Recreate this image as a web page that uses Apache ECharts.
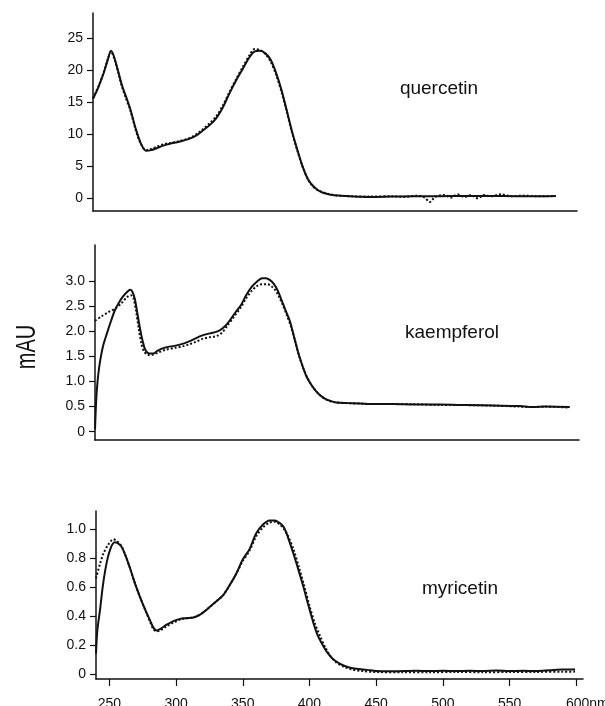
<!DOCTYPE html>
<html>
<head>
<meta charset="utf-8">
<script src="https://cdn.jsdelivr.net/npm/echarts@6/dist/echarts.min.js"></script>
<style>
  html, body { margin: 0; padding: 0; background: #fff; }
  #chart { width: 605px; height: 706px; }
</style>
</head>
<body>
<div id="chart"></div>
<script>
// wavelength (nm) / absorbance (mAU) pairs
const quercetinSolid = [
  [240,15.5],[244,17.3],[248,19.5],[251,21.5],[253.6,23.0],[256,22.0],[259,19.8],[262,17.5],[265,15.8],[268,14.0],
  [272,11.0],[276,8.6],[280,7.4],[284,7.5],[288,7.8],[293,8.2],[298,8.5],[305,8.8],[313,9.3],[318,9.8],
  [323,10.6],[328,11.4],[333,12.5],[338,14.2],[343,16.4],[348,18.4],[353,20.2],[358,22.0],[362,22.9],[366,23.0],
  [370,22.6],[374,21.6],[378,19.6],[382,17.0],[386,13.8],[390,10.5],[394,7.6],[398,5.0],[402,3.0],[406,1.9],
  [410,1.2],[414,0.8],[419,0.55],[425,0.4],[434,0.3],[449,0.2],[465,0.25],[480,0.3],[500,0.3],[520,0.35],
  [540,0.35],[560,0.3],[575,0.3],[589,0.35]
];
const quercetinDotted = [
  [240,15.6],[244,17.4],[248,19.6],[251,21.6],[253.6,22.9],[256,21.8],[259,19.6],[262,17.3],[265,15.5],[268,13.8],
  [272,10.8],[276,8.5],[280,7.5],[284,7.7],[288,8.0],[293,8.4],[298,8.6],[305,8.9],[313,9.4],[318,10.0],
  [323,10.8],[328,11.7],[333,12.8],[338,14.5],[343,16.6],[348,18.6],[353,20.5],[358,22.3],[362,23.3],[366,23.1],
  [370,22.5],[374,21.3],[378,19.3],[382,16.7],[386,13.6],[390,10.3],[394,7.5],[398,4.9],[402,3.0],[406,1.8],
  [410,1.2],[414,0.9],[419,0.6],[425,0.4],[434,0.3],[449,0.25],[465,0.3],[475,0.2],[485,0.4],[490,0.1],
  [494,-0.6],[498,0.2],[505,0.5],[510,0.1],[515,0.6],[520,0.2],[525,0.5],[530,0.0],[535,0.5],[540,0.3],
  [548,0.6],[555,0.3],[565,0.4],[575,0.3],[589,0.35]
];
const kaempferolSolid = [
  [240,0.05],[240.6,0.45],[241.3,0.8],[242.5,1.15],[244,1.43],[246,1.7],[249,1.96],[252,2.2],[255,2.42],[258,2.57],
  [261,2.69],[264,2.78],[266.5,2.83],[268,2.8],[270,2.65],[272,2.35],[274,2.05],[276,1.8],[278,1.63],[281,1.56],
  [284,1.56],[287,1.61],[291,1.66],[295,1.69],[300,1.71],[306,1.75],[311,1.8],[315,1.85],[320,1.91],[325,1.95],
  [330,1.98],[334,2.02],[338,2.1],[342,2.23],[346,2.38],[350,2.52],[354,2.72],[358,2.88],[362,2.99],[366,3.06],
  [369,3.06],[372,3.02],[375,2.94],[378,2.8],[381,2.6],[384,2.4],[387,2.2],[390,1.9],[393,1.6],[396,1.35],
  [399,1.13],[402,0.98],[406,0.83],[410,0.72],[414,0.65],[418,0.61],[422,0.58],[430,0.57],[440,0.56],[450,0.55],
  [465,0.55],[480,0.54],[500,0.54],[520,0.53],[540,0.52],[560,0.51],[570,0.49],[580,0.5],[598,0.49]
];
const kaempferolDotted = [
  [240,2.21],[245,2.3],[250,2.38],[255.5,2.46],[260,2.56],[264,2.68],[267,2.72],[269,2.66],[271,2.4],[273,2.05],
  [275,1.75],[277,1.6],[280,1.53],[284,1.54],[288,1.58],[293,1.63],[300,1.67],[306,1.7],[311,1.74],[316,1.79],
  [321,1.85],[326,1.88],[332,1.91],[336,1.98],[340,2.12],[345,2.3],[350,2.48],[354,2.66],[358,2.8],[362,2.9],
  [366,2.94],[370,2.94],[373,2.9],[376,2.82],[379,2.68],[382,2.5],[385,2.3],[388,2.08],[391,1.8],[394,1.5],
  [397,1.27],[400,1.08],[404,0.9],[408,0.77],[412,0.68],[416,0.62],[420,0.59],[430,0.57],[440,0.56],[450,0.55],
  [465,0.55],[480,0.55],[500,0.53],[520,0.53],[540,0.52],[560,0.5],[570,0.49],[580,0.5],[598,0.48]
];
const myricetinSolid = [
  [240,0.14],[241,0.3],[243,0.44],[245,0.6],[247,0.72],[249,0.81],[250.5,0.855],[252,0.89],[254,0.91],[256,0.905],
  [259,0.88],[262,0.82],[265.5,0.73],[269,0.63],[273,0.53],[277,0.44],[280.5,0.37],[283,0.32],[285.5,0.3],[288,0.31],
  [293,0.34],[298,0.365],[303,0.38],[308,0.385],[313,0.39],[318,0.41],[325,0.46],[330,0.5],[335,0.54],[340,0.61],
  [345,0.69],[350,0.79],[355,0.86],[360,0.97],[365,1.03],[370,1.06],[374,1.06],[378,1.04],[381,1.01],[384,0.94],
  [388,0.83],[392,0.71],[395.5,0.6],[399,0.48],[403,0.35],[406,0.27],[410.5,0.19],[414,0.14],[418,0.1],[423,0.07],
  [428,0.05],[435,0.035],[443,0.028],[450,0.02],[460,0.018],[470,0.02],[480,0.022],[490,0.02],[500,0.022],[510,0.02],
  [520,0.022],[530,0.02],[540,0.024],[550,0.02],[560,0.022],[570,0.02],[580,0.025],[590,0.03],[599,0.03]
];
const myricetinDotted = [
  [240,0.66],[243,0.76],[245.5,0.83],[249,0.89],[253,0.93],[256,0.915],[259,0.885],[262,0.82],[265.5,0.73],[269,0.63],
  [273,0.53],[277,0.44],[280.5,0.36],[283,0.31],[285.5,0.295],[288,0.3],[293,0.33],[298,0.355],[303,0.375],[308,0.385],
  [313,0.39],[318,0.41],[325,0.46],[330,0.5],[335,0.54],[340,0.61],[345,0.69],[350,0.78],[355,0.85],[360,0.95],
  [365,1.01],[370,1.045],[374,1.05],[378,1.03],[381,1.0],[384,0.95],[388,0.86],[392,0.74],[396,0.61],[400,0.47],
  [404,0.35],[408,0.26],[412,0.18],[416,0.12],[420,0.08],[426,0.05],[432,0.03],[440,0.02],[450,0.013],[470,0.012],
  [490,0.012],[510,0.013],[530,0.012],[550,0.013],[570,0.014],[590,0.015],[599,0.016]
];

const xTicks = [250, 300, 350, 400, 450, 500, 550, 600];
const qTicks = [0, 5, 10, 15, 20, 25];
const kTicks = [0, 0.5, 1.0, 1.5, 2.0, 2.5, 3.0];
const mTicks = [0, 0.2, 0.4, 0.6, 0.8, 1.0];
const panelNames = ['quercetin', 'kaempferol', 'myricetin'];

const ink = '#111';
const font = 'Liberation Sans, Arial, sans-serif';

function fmt(v) {
  return v === 0 ? '0' : v.toFixed(1);
}

function yAxis(idx, min, max, ticks, formatter) {
  return {
    type: 'value', gridIndex: idx, min: min, max: max,
    splitLine: { show: false },
    axisLine: { show: true, lineStyle: { color: ink, width: 1.5 } },
    axisTick: { show: true, length: 6, customValues: ticks, lineStyle: { color: ink, width: 1.2 } },
    axisLabel: { customValues: ticks, formatter: formatter, margin: 10, color: ink, fontSize: 14, fontFamily: font }
  };
}

function xAxis(idx, showLabels) {
  return {
    type: 'value', gridIndex: idx, min: 240, max: 605,
    splitLine: { show: false },
    axisLine: { show: true, onZero: false, lineStyle: { color: ink, width: 1.5 } },
    axisTick: { show: showLabels, length: 7, customValues: xTicks, lineStyle: { color: ink, width: 1.2 } },
    axisLabel: {
      show: showLabels, customValues: xTicks, margin: 18, color: ink, fontSize: 14, fontFamily: font,
      formatter: v => v === 600 ? '{u|600nm}' : String(v),
      rich: { u: { fontSize: 14, fontFamily: font, color: ink, padding: [0, 0, 0, 22] } }
    }
  };
}

function line(idx, data, dotted) {
  return {
    type: 'line', xAxisIndex: idx, yAxisIndex: idx, data: data,
    showSymbol: false, smooth: 0.3, silent: true,
    lineStyle: dotted ? { color: ink, width: 2, type: [2, 2] } : { color: ink, width: 2 }
  };
}

const chart = echarts.init(document.getElementById('chart'));
chart.setOption({
  animation: false,
  backgroundColor: '#fff',
  grid: [
    { left: 93, top: 13, width: 484, height: 198, outerBoundsMode: 'none' },
    { left: 95, top: 245, width: 484, height: 195, outerBoundsMode: 'none' },
    { left: 96, top: 511, width: 487, height: 168, outerBoundsMode: 'none' }
  ],
  xAxis: [xAxis(0, false), xAxis(1, false), xAxis(2, true)],
  yAxis: [
    yAxis(0, -2, 28.9, qTicks, v => String(v)),
    yAxis(1, -0.165, 3.72, kTicks, fmt),
    yAxis(2, -0.035, 1.125, mTicks, fmt)
  ],
  series: [
    line(0, quercetinDotted, true), line(0, quercetinSolid, false),
    line(1, kaempferolDotted, true), line(1, kaempferolSolid, false),
    line(2, myricetinDotted, true), line(2, myricetinSolid, false)
  ],
  graphic: [
    { type: 'text', x: 439, y: 89, style: { text: panelNames[0], font: '19px ' + font, fill: ink, textAlign: 'center', textVerticalAlign: 'middle' } },
    { type: 'text', x: 452, y: 333, style: { text: panelNames[1], font: '19px ' + font, fill: ink, textAlign: 'center', textVerticalAlign: 'middle' } },
    { type: 'text', x: 460, y: 589, style: { text: panelNames[2], font: '19px ' + font, fill: ink, textAlign: 'center', textVerticalAlign: 'middle' } },
    { type: 'text', x: 28, y: 347, rotation: Math.PI / 2, scaleX: 0.74,
      style: { text: 'mAU', font: '27px ' + font, fill: ink, textAlign: 'center', textVerticalAlign: 'middle' } }
  ]
});
</script>
</body>
</html>
